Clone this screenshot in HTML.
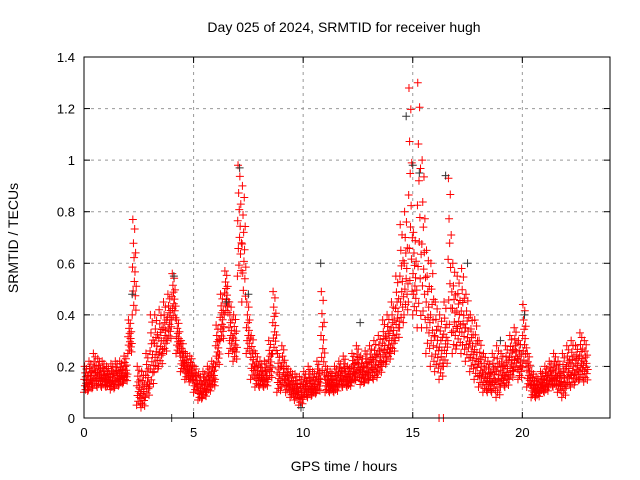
<!DOCTYPE html>
<html><head><meta charset="utf-8"><style>
html,body{margin:0;padding:0;background:#fff;}
svg{display:block;font-family:"Liberation Sans",sans-serif;}
</style></head><body>
<svg id="chart" width="640" height="480" viewBox="0 0 640 480">
<text x="344" y="32" text-anchor="middle" font-size="14">Day 025 of 2024, SRMTID for receiver hugh</text>
<text x="344" y="471" text-anchor="middle" font-size="14">GPS time / hours</text>
<text transform="translate(18,238) rotate(-90)" text-anchor="middle" font-size="14">SRMTID / TECUs</text>
<g id="grid"></g>
<g id="ticks"></g>
<g id="marks"></g>
<rect x="84" y="57" width="526" height="361" fill="none" stroke="#000" stroke-width="1"/>
</svg>
<script>
const xTicks=[0,5,10,15,20];
const yTicks=[0,0.2,0.4,0.6,0.8,1,1.2,1.4];
const yTickLabels=["0","0.2","0.4","0.6","0.8","1","1.2","1.4"];
const stepHours=[0,0.2,0.4,0.6,0.8,1,1.2,1.4,1.6,1.8,2,2.2,2.4,2.6,2.8,3,3.2,3.4,3.6,3.8,4,4.2,4.4,4.6,4.8,5,5.2,5.4,5.6,5.8,6,6.2,6.4,6.6,6.8,7,7.2,7.4,7.6,7.8,8,8.2,8.4,8.6,8.8,9,9.2,9.4,9.6,9.8,10,10.2,10.4,10.6,10.8,11,11.2,11.4,11.6,11.8,12,12.2,12.4,12.6,12.8,13,13.2,13.4,13.6,13.8,14,14.2,14.4,14.6,14.8,15,15.2,15.4,15.6,15.8,16,16.2,16.4,16.6,16.8,17,17.2,17.4,17.6,17.8,18,18.2,18.4,18.6,18.8,19,19.2,19.4,19.6,19.8,20,20.2,20.4,20.6,20.8,21,21.2,21.4,21.6,21.8,22,22.2,22.4,22.6,22.8];
const lowVals=[0.10,0.11,0.12,0.12,0.12,0.12,0.11,0.12,0.13,0.14,0.25,0.40,0.05,0.04,0.08,0.12,0.18,0.20,0.25,0.30,0.38,0.25,0.18,0.15,0.14,0.10,0.07,0.08,0.10,0.12,0.20,0.30,0.40,0.25,0.22,0.55,0.45,0.25,0.15,0.12,0.12,0.12,0.15,0.25,0.10,0.12,0.10,0.08,0.07,0.05,0.08,0.08,0.09,0.10,0.15,0.10,0.10,0.10,0.12,0.12,0.12,0.14,0.15,0.13,0.14,0.15,0.15,0.17,0.20,0.22,0.25,0.30,0.35,0.40,0.45,0.40,0.35,0.35,0.25,0.20,0.18,0.15,0.20,0.30,0.25,0.28,0.25,0.22,0.18,0.15,0.12,0.10,0.10,0.10,0.08,0.12,0.12,0.15,0.18,0.15,0.20,0.12,0.08,0.08,0.10,0.10,0.12,0.12,0.10,0.08,0.12,0.12,0.14,0.15,0.14];
const highVals=[0.20,0.22,0.25,0.23,0.22,0.20,0.21,0.22,0.22,0.24,0.38,0.77,0.20,0.18,0.25,0.40,0.40,0.42,0.45,0.48,0.56,0.38,0.30,0.25,0.24,0.20,0.17,0.18,0.20,0.22,0.36,0.48,0.57,0.45,0.40,0.98,0.90,0.45,0.32,0.25,0.22,0.22,0.30,0.49,0.25,0.28,0.20,0.18,0.17,0.16,0.18,0.20,0.18,0.22,0.49,0.20,0.18,0.20,0.22,0.24,0.20,0.25,0.28,0.24,0.26,0.28,0.30,0.32,0.38,0.40,0.45,0.55,0.75,0.80,1.28,0.72,1.30,1.00,0.65,0.60,0.45,0.40,0.45,0.93,0.60,0.55,0.58,0.48,0.40,0.38,0.30,0.25,0.22,0.25,0.28,0.25,0.28,0.32,0.35,0.30,0.44,0.25,0.18,0.16,0.18,0.20,0.22,0.25,0.22,0.25,0.28,0.30,0.28,0.33,0.30];
const greyHours=[2.2,4.0,4.1,6.5,7.1,7.5,10.8,12.6,14.7,15.0,15.3,16.5,17.5,19.0,20.1,9.9];
const greyVals=[0.48,0.00,0.55,0.45,0.97,0.48,0.60,0.37,1.17,0.98,0.95,0.94,0.60,0.30,0.40,0.04];
const zeroHours=[16.2,16.4];
const zeroVals=[0,0];

const X0=84,X1=610,Y0=418,Y1=57;
const xs=h=>X0+h/24*(X1-X0);
const ys=v=>Y0-v/1.4*(Y0-Y1);
const NS='http://www.w3.org/2000/svg';
const grid=document.getElementById('grid'),ticks=document.getElementById('ticks'),marks=document.getElementById('marks');
function mk(tag,attrs,parent){const e=document.createElementNS(NS,tag);for(const k in attrs)e.setAttribute(k,attrs[k]);parent.appendChild(e);return e;}
xTicks.forEach(t=>{const x=xs(t);
 if(t>0){const l=mk('line',{x1:x,x2:x,y1:Y0,y2:Y1,stroke:'#999','stroke-dasharray':'3,4'},grid);
 
 }
 mk('line',{x1:x,x2:x,y1:Y0,y2:Y0-6,stroke:'#000'},ticks);
 mk('line',{x1:x,x2:x,y1:Y1,y2:Y1+6,stroke:'#000'},ticks);
 const tx=mk('text',{x:x,y:Y0+19,'text-anchor':'middle','font-size':'13'},ticks);tx.textContent=t;
 
 });
yTicks.forEach((t,i)=>{const y=ys(t);
 if(t>0&&t<1.4){const l=mk('line',{x1:X0,x2:X1,y1:y,y2:y,stroke:'#999','stroke-dasharray':'3,4'},grid);
 
 }
 mk('line',{x1:X0,x2:X0+6,y1:y,y2:y,stroke:'#000'},ticks);
 mk('line',{x1:X1,x2:X1-6,y1:y,y2:y,stroke:'#000'},ticks);
 const tx=mk('text',{x:X0-9,y:y+5,'text-anchor':'end','font-size':'13'},ticks);tx.textContent=yTickLabels[i];
 
 });
function plus(x,y,c){const p=mk('path',{d:`M${x-4},${y}h8M${x},${y-4}v8`,stroke:c,'stroke-width':'1',fill:'none'},marks);
 
 }
const fr=[0,0.5,1,0.25,0.75,0.1,0.6,0.35,0.9,0.45,0.2,0.65,0.05,0.3];
stepHours.forEach((h,i)=>{const lo=lowVals[i],hi=highVals[i];
 fr.forEach((f,j)=>{plus(xs(h+j*0.014),ys(lo+(hi-lo)*f),'#f00');});});
greyHours.forEach((h,i)=>plus(xs(h),ys(greyVals[i]),'#333'));
zeroHours.forEach((h,i)=>plus(xs(h),ys(zeroVals[i]),'#f00'));
</script>
</body></html>
